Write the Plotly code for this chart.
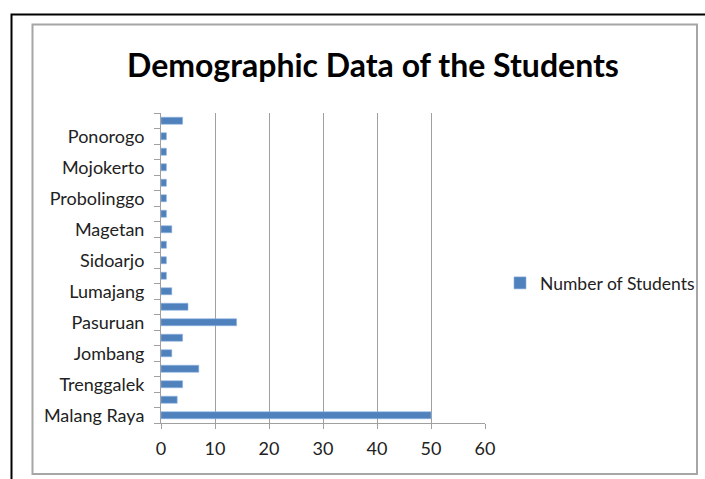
import plotly.graph_objects as go

# Categories bottom to top (every other label shown in the reference)
regions = ["Malang Raya", "Blitar", "Trenggalek", "Kediri", "Jombang", "Surabaya",
           "Pasuruan", "Jember", "Lumajang", "Banyuwangi", "Sidoarjo", "Madiun",
           "Magetan", "Tulungagung", "Probolinggo", "Gresik", "Mojokerto", "Lamongan",
           "Ponorogo", "Other"]
students = [50, 3, 4, 7, 2, 4, 14, 5, 2, 1, 1, 1, 2, 1, 1, 1, 1, 1, 1, 4]
shown_labels = [r if i % 2 == 0 else "" for i, r in enumerate(regions)]
x_ticks = [0, 10, 20, 30, 40, 50, 60]

FONT = "Lato, Carlito, Calibri, sans-serif"

fig = go.Figure(go.Bar(
    y=regions, x=students, orientation="h", name="Number of Students",
    marker=dict(color="#4F81BD", line=dict(color="#8EB4E3", width=0.6)),
    width=0.45,
))

L, R, T, B = 161, 485, 113, 423
W = R - L
H = B - T
def px(x): return (x - L) / W
def py(y): return (B - y) / H

fig.update_layout(
    width=705, height=479,
    margin=dict(l=L, r=705 - R, t=T, b=479 - B, autoexpand=False),
    paper_bgcolor="white", plot_bgcolor="white",
    title=dict(text="<b>Demographic Data of the Students</b>", x=373 / 705, xanchor="center",
               y=1 - 66 / 479, yanchor="middle",
               font=dict(family=FONT, size=32, color="black")),
    showlegend=True,
    legend=dict(xref="container", yref="container", x=500 / 705, y=1 - 283 / 479,
                xanchor="left", yanchor="middle", itemwidth=30,
                font=dict(family=FONT, size=17.5, color="#222"), bgcolor="rgba(0,0,0,0)"),
    xaxis=dict(range=[0, 60], tickvals=x_ticks, showgrid=True, gridcolor="#a0a0a0", gridwidth=1,
               zeroline=False, showline=True, linecolor="#a0a0a0", linewidth=1, automargin=False,
               ticks="outside", ticklen=5, tickcolor="#a0a0a0", ticklabelstandoff=4,
               tickfont=dict(family=FONT, size=18, color="#222")),
    yaxis=dict(type="category", categoryorder="array", categoryarray=regions,
               tickvals=regions, ticktext=shown_labels, tickson="boundaries", automargin=False,
               showline=True, linecolor="#a0a0a0", linewidth=1, showgrid=False,
               ticks="outside", ticklen=6, tickcolor="#a0a0a0", ticklabelstandoff=12,
               tickfont=dict(family=FONT, size=18, color="#222"),
               range=[-0.5, len(regions) - 0.5]),
    shapes=[
        dict(type="rect", xref="paper", yref="paper", x0=px(11.5), x1=px(720), y0=py(495), y1=py(14.5),
             line=dict(color="black", width=2), layer="below"),
        dict(type="rect", xref="paper", yref="paper", x0=px(32.5), x1=px(697), y0=py(474), y1=py(24.5),
             line=dict(color="#a6a6a6", width=2), layer="below"),
    ],
)

fig.write_html("out.html", config={"displayModeBar": False},
               post_script="document.body.style.margin='0';")
